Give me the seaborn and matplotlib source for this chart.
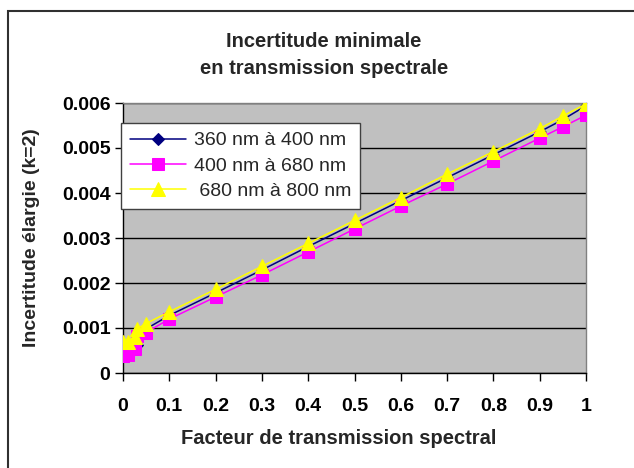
import matplotlib
matplotlib.use("Agg")
import matplotlib.pyplot as plt
import seaborn as sns
import pandas as pd
from matplotlib.patches import Rectangle

# ---- data ----
x_vals = [0, 0.01, 0.025, 0.03, 0.05, 0.1, 0.2, 0.3, 0.4, 0.5, 0.6, 0.7, 0.8, 0.9, 0.95, 1]
s360 = [0.00048, 0.00050, 0.00058, 0.00062, 0.00098, 0.00128, 0.00178, 0.00229, 0.00281,
        0.00332, 0.00383, 0.00434, 0.00485, 0.00536, 0.00563, 0.00594]
s400 = [0.00038, 0.00040, 0.00053, 0.00082, 0.00090, 0.00120, 0.00169, 0.00218, 0.00269,
        0.00320, 0.00371, 0.00420, 0.00471, 0.00522, 0.00547, 0.00573]
s680 = [0.00068, 0.00070, 0.00080, 0.00098, 0.00110, 0.00136, 0.00186, 0.00237, 0.00288,
        0.00339, 0.00390, 0.00442, 0.00492, 0.00543, 0.00571, 0.00598]
series_labels = ["360 nm à 400 nm", "400 nm à 680 nm", " 680 nm à 800 nm"]
x_ticks = [0, 0.1, 0.2, 0.3, 0.4, 0.5, 0.6, 0.7, 0.8, 0.9, 1]
x_ticklabels = ["0", "0.1", "0.2", "0.3", "0.4", "0.5", "0.6", "0.7", "0.8", "0.9", "1"]
y_ticks = [0, 0.001, 0.002, 0.003, 0.004, 0.005, 0.006]
y_ticklabels = ["0", "0.001", "0.002", "0.003", "0.004", "0.005", "0.006"]
title = "Incertitude minimale\nen transmission spectrale"
xlabel = "Facteur de transmission spectral"
ylabel = "Incertitude élargie (k=2)"

sns.set_theme(style="white")
plt.rcParams['font.family'] = ['Liberation Sans', 'DejaVu Sans']

W, H = 634, 468
fig = plt.figure(figsize=(W / 100, H / 100), dpi=100)
fig.patch.set_facecolor("white")
L, R, T, B = 123, 586, 103, 373
ax = fig.add_axes([L / W, 1 - B / H, (R - L) / W, (B - T) / H])
ax.set_facecolor("#C0C0C0")

styles = [
    (s360, "#000080", "D", 6, "#000080"),
    (s400, "#FF00FF", "s", 8, "#FF00FF"),
    (s680, "#FFFF00", "^", 10, "#FFFF00"),
]
for (vals, col, mk, ms, mec), lab in zip(styles, series_labels):
    df = pd.DataFrame({"x": x_vals, "y": vals})
    sns.lineplot(data=df, x="x", y="y", ax=ax, color=col, linewidth=1.1,
                 marker=mk, markersize=ms, markeredgecolor=mec, markerfacecolor=col,
                 label=lab, sort=False, estimator=None, zorder=3)

ax.set_xlim(0, 1)
ax.set_ylim(0, 0.006)
ax.set_xticks(x_ticks)
ax.set_xticklabels(x_ticklabels)
ax.set_yticks(y_ticks)
ax.set_yticklabels(y_ticklabels)
ax.yaxis.grid(True, color="black", linewidth=1.0)
ax.xaxis.grid(False)
ax.set_axisbelow(True)
for lbl in ax.get_xticklabels() + ax.get_yticklabels():
    lbl.set_fontweight("bold")
    lbl.set_fontsize(14)
    lbl.set_color("black")
ax.tick_params(axis="both", which="major", direction="out", length=6, width=1,
               color="black", bottom=True, left=True)
ax.tick_params(axis="x", pad=12)
ax.tick_params(axis="y", pad=3)
ax.spines["left"].set_color("black")
ax.spines["bottom"].set_color("black")
ax.spines["top"].set_color("#808080")
ax.spines["right"].set_color("#808080")
for s in ax.spines.values():
    s.set_linewidth(1.0)

ax.set_xlabel("")
ax.set_ylabel("")
fig.text(339 / W, 1 - 439 / H, xlabel, ha="center", va="center",
         fontsize=14.5, fontweight="bold")
fig.text(32 / W, 1 - 238 / H, ylabel, ha="center", va="center", rotation=90,
         fontsize=14, fontweight="bold")
fig.text(324 / W, 1 - 55 / H, title, ha="center", va="center",
         fontsize=14.5, fontweight="bold", linespacing=1.5)

leg = ax.legend(loc="upper left", bbox_to_anchor=((121 - L) / (R - L), (B - 123) / (B - T)),
                frameon=True, fancybox=False, shadow=False, fontsize=14,
                borderaxespad=0, handlelength=2.9, handletextpad=0.4,
                labelspacing=0.4, borderpad=0.45)
leg.get_frame().set_edgecolor("#404040")
leg.get_frame().set_linewidth(1.0)
leg.get_frame().set_facecolor("white")
leg.get_frame().set_alpha(1)

fig.patches.append(Rectangle((8 / W, -0.5), 2, 1.5 - 11 / H, transform=fig.transFigure,
                             fill=False, edgecolor="#303030", linewidth=1.5))

fig.savefig("out.png", dpi=100, facecolor="white")
